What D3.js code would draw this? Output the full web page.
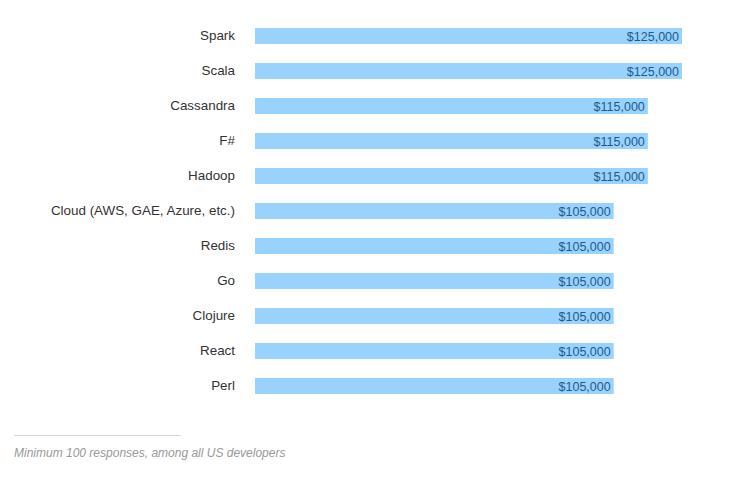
<!DOCTYPE html>
<html>
<head>
<meta charset="utf-8">
<script src="https://cdn.jsdelivr.net/npm/d3@7"></script>
<style>
  body { margin: 0; background: #fff; }
  svg { font-family: "Liberation Sans", Arial, sans-serif; }
</style>
</head>
<body>
<svg id="chart"></svg>
<script>
// data
var languages = ["Spark", "Scala", "Cassandra", "F#", "Hadoop", "Cloud (AWS, GAE, Azure, etc.)",
                 "Redis", "Go", "Clojure", "React", "Perl"];
var salaries = [125000, 125000, 115000, 115000, 115000, 105000, 105000, 105000, 105000, 105000, 105000];
var footnote = "Minimum 100 responses, among all US developers";

var width = 744, height = 484;

var svg = d3.select("#chart")
.attr("width", width)
.attr("height", height);

var data = languages.map(function(d, i) { return { lang: d, salary: salaries[i] }; });

// x scale: 0 starts at the bar origin
var x = d3.scaleLinear()
.domain([0, 125000])
.range([255, 682]);

// y scale: one band per language
var y = d3.scaleBand()
.domain(languages)
.range([9, 413])
.paddingInner(0.543)
.paddingOuter(0.543);

var fmt = d3.format("$,");

// bars
svg.append("g")
.selectAll("rect")
.data(data)
.enter().append("rect")
.attr("x", x(0))
.attr("y", function(d) { return y(d.lang); })
.attr("width", function(d) { return x(d.salary) - x(0); })
.attr("height", y.bandwidth())
.attr("fill", "#99d2fc");

// category labels
svg.append("g")
.selectAll("text")
.data(data)
.enter().append("text")
.attr("x", 235)
.attr("y", function(d) { return y(d.lang) + y.bandwidth() / 2 - 1; })
.attr("dy", "0.35em")
.attr("text-anchor", "end")
.attr("font-size", "13.4px")
.attr("fill", "#333")
.text(function(d) { return d.lang; });

// value labels inside bars
svg.append("g")
.selectAll("text")
.data(data)
.enter().append("text")
.attr("x", function(d) { return x(d.salary) - 3; })
.attr("y", function(d) { return y(d.lang) + y.bandwidth() / 2 + 1; })
.attr("dy", "0.35em")
.attr("text-anchor", "end")
.attr("font-size", "12.5px")
.attr("fill", "#1f5a8e")
.text(function(d) { return fmt(d.salary); });

// footnote
svg.append("line")
.attr("x1", 14).attr("x2", 181)
.attr("y1", 435.5).attr("y2", 435.5)
.attr("stroke", "#d8d8d8")
.attr("stroke-width", 1);

svg.append("text")
.attr("x", 14)
.attr("y", 457)
.attr("font-size", "12px")
.attr("font-style", "italic")
.attr("fill", "#999")
.text(footnote);
</script>
</body>
</html>
